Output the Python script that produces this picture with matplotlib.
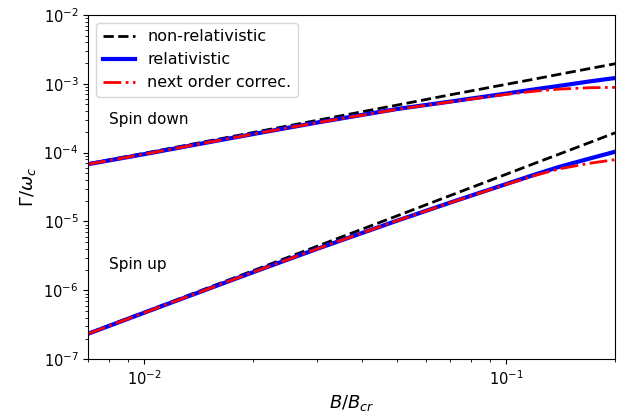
import matplotlib
matplotlib.use("Agg")
import matplotlib.pyplot as plt

# B/B_cr sample points
B = [0.007, 0.01, 0.015, 0.02, 0.03, 0.05, 0.07, 0.1, 0.12, 0.14, 0.17, 0.2]

# Spin down
down_nonrel = [6.9e-5, 9.8e-5, 1.47e-4, 1.96e-4, 2.94e-4, 4.9e-4, 6.9e-4, 9.8e-4, 1.17e-3, 1.37e-3, 1.66e-3, 1.95e-3]
down_rel    = [6.8e-5, 9.5e-5, 1.41e-4, 1.86e-4, 2.73e-4, 4.3e-4, 5.5e-4, 7.2e-4, 8.3e-4, 9.3e-4, 1.08e-3, 1.21e-3]
down_next   = [6.8e-5, 9.5e-5, 1.41e-4, 1.86e-4, 2.72e-4, 4.25e-4, 5.45e-4, 7.0e-4, 7.8e-4, 8.35e-4, 8.75e-4, 8.85e-4]

# Spin up
up_nonrel = [2.38e-7, 4.85e-7, 1.09e-6, 1.94e-6, 4.37e-6, 1.21e-5, 2.38e-5, 4.85e-5, 7.0e-5, 9.5e-5, 1.4e-4, 1.94e-4]
up_rel    = [2.35e-7, 4.75e-7, 1.05e-6, 1.84e-6, 4.0e-6, 1.03e-5, 1.88e-5, 3.5e-5, 4.8e-5, 6.2e-5, 8.2e-5, 1.03e-4]
up_next   = [2.35e-7, 4.75e-7, 1.05e-6, 1.84e-6, 4.0e-6, 1.03e-5, 1.87e-5, 3.45e-5, 4.65e-5, 5.8e-5, 7.0e-5, 7.9e-5]

fig = plt.figure(figsize=(6.22, 4.12), dpi=100)
ax = fig.add_axes([0.142, 0.128, 0.847, 0.836])

ax.plot(B, down_nonrel, color='black', ls='--', lw=2, label='non-relativistic')
ax.plot(B, down_rel, color='blue', ls='-', lw=3, label='relativistic')
ax.plot(B, down_next, color='red', ls='-.', lw=2, label='next order correc.')
ax.plot(B, up_nonrel, color='black', ls='--', lw=2)
ax.plot(B, up_rel, color='blue', ls='-', lw=3)
ax.plot(B, up_next, color='red', ls='-.', lw=2)

ax.set_xscale('log')
ax.set_yscale('log')
ax.set_xlim(0.007, 0.2)
ax.set_ylim(1e-7, 1e-2)
ax.tick_params(labelsize=10.5)

ax.text(0.0080, 3.0e-4, 'Spin down', fontsize=11, va='center', ha='left')
ax.text(0.0080, 2.4e-6, 'Spin up', fontsize=11, va='center', ha='left')

ax.set_xlabel(r'$B/B_{cr}$', fontsize=13)
ax.set_ylabel(r'$\Gamma/\omega_c$', fontsize=13)
ax.legend(loc='upper left', fontsize=11.5)

fig.savefig('out.png', dpi=100)
